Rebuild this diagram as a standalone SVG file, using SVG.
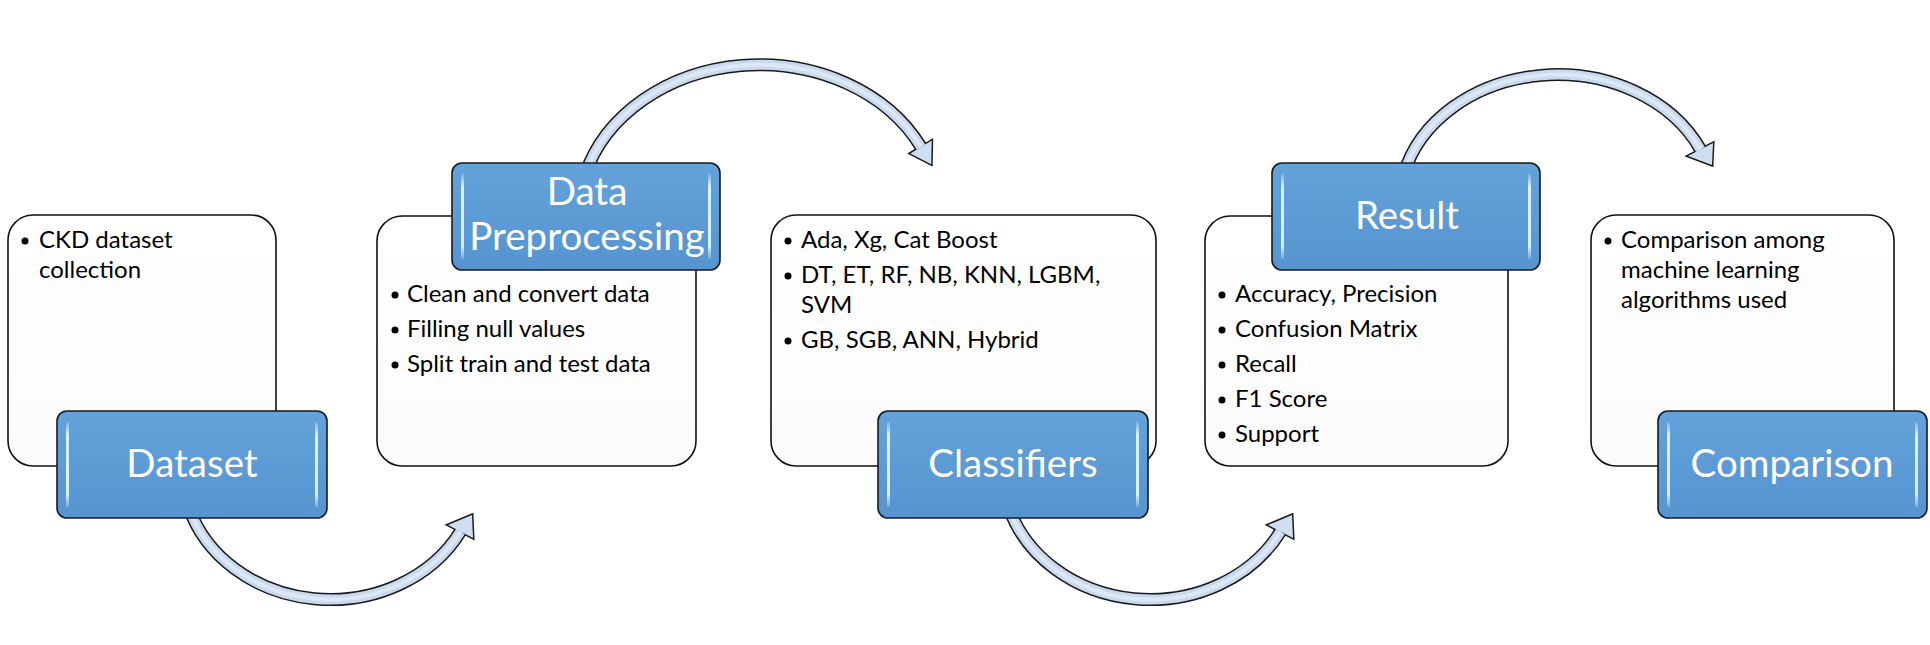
<svg xmlns="http://www.w3.org/2000/svg" width="1930" height="645" viewBox="0 0 1930 645">
<defs>
<linearGradient id="gBlue" x1="0" y1="0" x2="0" y2="1">
<stop offset="0" stop-color="#63a2da"/>
<stop offset="1" stop-color="#5694d0"/>
</linearGradient>
<linearGradient id="gWhite" x1="0" y1="0" x2="0" y2="1">
<stop offset="0" stop-color="#ffffff"/>
<stop offset="1" stop-color="#fbfbfb"/>
</linearGradient>
<linearGradient id="gHi" x1="0" y1="0" x2="0" y2="1">
<stop offset="0" stop-color="#d8f0ff" stop-opacity="0.2"/>
<stop offset="0.15" stop-color="#d8f0ff"/>
<stop offset="0.85" stop-color="#d8f0ff"/>
<stop offset="1" stop-color="#d8f0ff" stop-opacity="0.2"/>
</linearGradient>
<style>
.wbox{fill:url(#gWhite);stroke:#111;stroke-width:1.6}
.bbox{fill:url(#gBlue);stroke:#1a1a1a;stroke-width:1.6}
.hi{fill:url(#gHi)}
.title{font-family:Lato,"Open Sans",sans-serif;font-size:38.5px;fill:#fff;text-anchor:middle}
.item{font-family:Lato,"Open Sans",sans-serif;font-size:24px;fill:#000}
.dot{fill:#000}
.sOut{fill:none;stroke:#1a1a1a;stroke-width:13}
.sIn{fill:none;stroke:#c8d9ef;stroke-width:10}
.sMid{fill:none;stroke:#dde8f6;stroke-width:4}
.hOut{fill:#1a1a1a;stroke:#1a1a1a;stroke-width:3;stroke-linejoin:miter}
.hIn{fill:#cfdff2}
</style>
</defs>
<rect width="1930" height="645" fill="#fff"/>

<g id="connectors">
<g id="arrow1">
<path class="sOut" d="M 188 505 A 148 130 0 0 0 460.5 531.5"/>
<polygon class="hOut" points="472,515 448,525 473,538"/>
<path class="sIn" d="M 188 505 A 148 130 0 0 0 460.5 531.5"/>
<polygon class="hIn" points="472,515 448,525 473,538"/>
<path class="sMid" d="M 188 505 A 148 130 0 0 0 460.5 531.5"/>
</g>
<g id="arrow2">
<path class="sOut" d="M 585 175 A 181 150 0 0 1 921 147"/>
<polygon class="hOut" points="931.2,164.2 910.3,153.4 931.7,140.6"/>
<path class="sIn" d="M 585 175 A 181 150 0 0 1 921 147"/>
<polygon class="hIn" points="931.2,164.2 910.3,153.4 931.7,140.6"/>
<path class="sMid" d="M 585 175 A 181 150 0 0 1 921 147"/>
</g>
<g id="arrow3">
<path class="sOut" d="M 1008 505 A 148 130 0 0 0 1280.5 531.5"/>
<polygon class="hOut" points="1292,515 1268,525 1293,538"/>
<path class="sIn" d="M 1008 505 A 148 130 0 0 0 1280.5 531.5"/>
<polygon class="hIn" points="1292,515 1268,525 1293,538"/>
<path class="sMid" d="M 1008 505 A 148 130 0 0 0 1280.5 531.5"/>
</g>
<g id="arrow4">
<path class="sOut" d="M 1403.6 175 A 158 130 0 0 1 1700.5 149.5"/>
<polygon class="hOut" points="1712,165 1688,156 1713,143"/>
<path class="sIn" d="M 1403.6 175 A 158 130 0 0 1 1700.5 149.5"/>
<polygon class="hIn" points="1712,165 1688,156 1713,143"/>
<path class="sMid" d="M 1403.6 175 A 158 130 0 0 1 1700.5 149.5"/>
</g>
</g>

<g id="node-dataset">
<rect class="wbox" x="8" y="215" width="268" height="251" rx="25"/>
<circle class="dot" cx="25" cy="241" r="3.5"/>
<text class="item" x="39" y="248">CKD dataset</text>
<text class="item" x="39" y="278">collection</text>
<rect class="bbox" x="57" y="411" width="270" height="107" rx="10"/>
<rect class="hi" x="66" y="422" width="3" height="85"/>
<rect class="hi" x="315" y="422" width="3" height="85"/>
<text class="title" x="192" y="477">Dataset</text>
</g>

<g id="node-preprocessing">
<rect class="wbox" x="377" y="216" width="319" height="250" rx="25"/>
<rect class="bbox" x="452" y="163" width="268" height="107" rx="10"/>
<rect class="hi" x="461" y="174" width="3" height="85"/>
<rect class="hi" x="708" y="174" width="3" height="85"/>
<text class="title" x="587" y="205">Data</text>
<text class="title" x="587" y="250">Preprocessing</text>
<circle class="dot" cx="395" cy="295" r="3.5"/>
<text class="item" x="407" y="302">Clean and convert data</text>
<circle class="dot" cx="395" cy="330" r="3.5"/>
<text class="item" x="407" y="337">Filling null values</text>
<circle class="dot" cx="395" cy="365" r="3.5"/>
<text class="item" x="407" y="372">Split train and test data</text>
</g>

<g id="node-classifiers">
<rect class="wbox" x="771" y="215" width="385" height="251" rx="25"/>
<circle class="dot" cx="788" cy="241" r="3.5"/>
<text class="item" x="801" y="248">Ada, Xg, Cat Boost</text>
<circle class="dot" cx="788" cy="276" r="3.5"/>
<text class="item" x="801" y="283">DT, ET, RF, NB, KNN, LGBM,</text>
<text class="item" x="801" y="313">SVM</text>
<circle class="dot" cx="788" cy="341" r="3.5"/>
<text class="item" x="801" y="348">GB, SGB, ANN, Hybrid</text>
<rect class="bbox" x="878" y="411" width="270" height="107" rx="10"/>
<rect class="hi" x="887" y="422" width="3" height="85"/>
<rect class="hi" x="1136" y="422" width="3" height="85"/>
<text class="title" x="1013" y="477">Classifiers</text>
</g>

<g id="node-result">
<rect class="wbox" x="1205" y="216" width="303" height="250" rx="25"/>
<rect class="bbox" x="1272" y="163" width="268" height="107" rx="10"/>
<rect class="hi" x="1281" y="174" width="3" height="85"/>
<rect class="hi" x="1528" y="174" width="3" height="85"/>
<text class="title" x="1407" y="229">Result</text>
<circle class="dot" cx="1222" cy="295" r="3.5"/>
<text class="item" x="1235" y="302">Accuracy, Precision</text>
<circle class="dot" cx="1222" cy="330" r="3.5"/>
<text class="item" x="1235" y="337">Confusion Matrix</text>
<circle class="dot" cx="1222" cy="365" r="3.5"/>
<text class="item" x="1235" y="372">Recall</text>
<circle class="dot" cx="1222" cy="400" r="3.5"/>
<text class="item" x="1235" y="407">F1 Score</text>
<circle class="dot" cx="1222" cy="435" r="3.5"/>
<text class="item" x="1235" y="442">Support</text>
</g>

<g id="node-comparison">
<rect class="wbox" x="1591" y="215" width="303" height="251" rx="25"/>
<circle class="dot" cx="1608" cy="241" r="3.5"/>
<text class="item" x="1621" y="248">Comparison among</text>
<text class="item" x="1621" y="278">machine learning</text>
<text class="item" x="1621" y="308">algorithms used</text>
<rect class="bbox" x="1658" y="411" width="269" height="107" rx="10"/>
<rect class="hi" x="1667" y="422" width="3" height="85"/>
<rect class="hi" x="1915" y="422" width="3" height="85"/>
<text class="title" x="1792" y="477">Comparison</text>
</g>
</svg>
